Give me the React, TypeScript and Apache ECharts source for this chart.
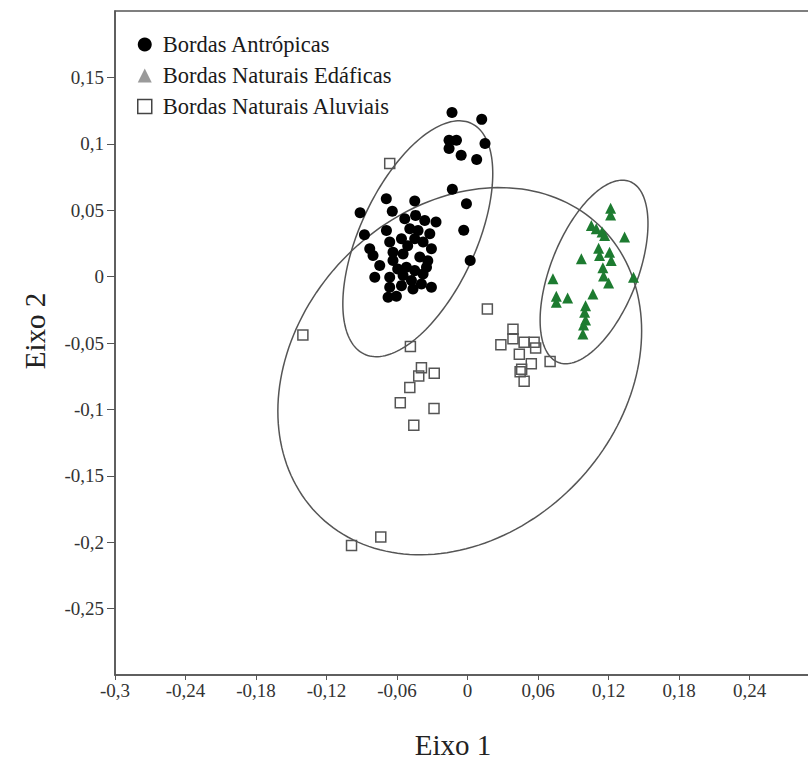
import React, { useEffect, useRef } from "react";
import * as echarts from "echarts";

// Eixo 1 (x), Eixo 2 (y)
const antropicas: [number, number][] = [
  [-0.0132, 0.1236], [0.0121, 0.1184], [-0.0157, 0.1027], [-0.0094, 0.1027],
  [-0.0157, 0.0965], [-0.0054, 0.0914], [0.0078, 0.0881], [0.0149, 0.1002],
  [-0.0129, 0.0657], [-0.0009, 0.0549], [-0.0032, 0.0349], [0.0023, 0.0121],
  [-0.0691, 0.0587], [-0.0449, 0.0569], [-0.0914, 0.0481], [-0.064, 0.0492],
  [-0.0534, 0.0436], [-0.0442, 0.0461], [-0.0364, 0.0423], [-0.0268, 0.0411],
  [-0.069, 0.0347], [-0.0877, 0.0315], [-0.0491, 0.036], [-0.0421, 0.0347],
  [-0.0321, 0.0323], [-0.0662, 0.026], [-0.0562, 0.0285], [-0.0449, 0.0285],
  [-0.0378, 0.026], [-0.0307, 0.0209], [-0.0832, 0.0209], [-0.0634, 0.0184],
  [-0.0548, 0.0171], [-0.0406, 0.0147], [-0.0804, 0.0159], [-0.0634, 0.0121],
  [-0.0747, 0.0083], [-0.052, 0.0071], [-0.0349, 0.0071], [-0.0449, 0.0045],
  [-0.0789, -0.0005], [-0.0662, -0.0005], [-0.0548, 0.0008], [-0.0378, 0.002],
  [-0.0477, -0.003], [-0.0392, -0.0055], [-0.0307, -0.008], [-0.0662, -0.008],
  [-0.0562, -0.0068], [-0.0464, -0.0093], [-0.0676, -0.0156], [-0.0605, -0.0148],
  [-0.0509, 0.0232], [-0.0338, 0.0119], [-0.0594, 0.0058],
];

const edaficas: [number, number][] = [
  [0.1218, 0.0515], [0.1218, 0.0464], [0.1054, 0.0385], [0.1096, 0.036],
  [0.1145, 0.0335], [0.1167, 0.031], [0.1337, 0.0298], [0.0969, 0.0134],
  [0.1116, 0.0213], [0.1124, 0.0159], [0.1209, 0.0184], [0.1223, 0.0121],
  [0.1152, 0.0066], [0.1158, 0.0005], [0.1201, -0.0048], [0.1413, -0.0005],
  [0.0727, -0.0017], [0.0756, -0.0148], [0.0756, -0.0193], [0.0852, -0.0161],
  [0.1067, -0.0131], [0.1005, -0.0219], [0.0997, -0.0269], [0.1005, -0.0327],
  [0.0988, -0.0365], [0.0982, -0.0433],
];

const aluviais: [number, number][] = [
  [-0.0662, 0.0851], [-0.1401, -0.044], [-0.0486, -0.0526], [-0.0392, -0.0686],
  [-0.0415, -0.0748], [-0.0283, -0.0727], [-0.0491, -0.0835], [-0.0572, -0.095],
  [-0.0285, -0.0994], [-0.0457, -0.112], [0.0169, -0.0244], [0.0387, -0.0397],
  [0.0387, -0.0468], [0.0284, -0.0514], [0.0482, -0.0495], [0.0567, -0.0495],
  [0.058, -0.0537], [0.0441, -0.0584], [0.0543, -0.0657], [0.0461, -0.0697],
  [0.0448, -0.0716], [0.0482, -0.0788], [0.0703, -0.064], [-0.0738, -0.1961],
  [-0.0987, -0.2024],
];

// confidence ellipses: [centerX, centerY, u.x, u.y, v.x, v.y] (conjugate semi-axes)
const ellipseAntropicas = [-0.0423, 0.0285, 0.0638, 0.0491, 0, -0.074];
const ellipseAluviais = [-0.0066, -0.0712, 0.1548, 0.0302, 0, -0.1349];
const ellipseEdaficas = [0.1077, 0.0035, 0.0459, 0.0363, 0, -0.0588];

const xTickValues = [-0.3, -0.24, -0.18, -0.12, -0.06, 0, 0.06, 0.12, 0.18, 0.24];
const xTickLabels = ["-0,3", "-0,24", "-0,18", "-0,12", "-0,06", "0", "0,06", "0,12", "0,18", "0,24"];
const yTickValues = [-0.25, -0.2, -0.15, -0.1, -0.05, 0, 0.05, 0.1, 0.15];
const yTickLabels = ["-0,25", "-0,2", "-0,15", "-0,1", "-0,05", "0", "0,05", "0,1", "0,15"];

const SERIF = "'Liberation Serif', 'Times New Roman', serif";

function lookup(values: number[], labels: string[], v: number) {
  const i = values.findIndex((t) => Math.abs(t - v) < 1e-6);
  return i >= 0 ? labels[i] : "";
}

export default function App() {
  const ref = useRef<HTMLDivElement>(null);
  useEffect(() => {
    if (!ref.current) return;
    const chart = echarts.init(ref.current, null, { renderer: "svg" });
    const option: any = {
      animation: false,
      backgroundColor: "#ffffff",
      grid: {
        left: 115,
        top: 11,
        width: 705,
        height: 664,
        outerBoundsMode: "none",
        containLabel: false,
        show: true,
        borderColor: "#555",
        borderWidth: 1.5,
        backgroundColor: "transparent",
      },
      xAxis: {
        type: "value",
        min: -0.3,
        max: 0.3,
        interval: 0.06,
        splitLine: { show: false },
        axisLine: { show: true, onZero: false, lineStyle: { color: "#555", width: 1.5 } },
        axisTick: { show: true, length: 5, customValues: xTickValues, lineStyle: { color: "#555" } },
        axisLabel: {
          customValues: xTickValues,
          margin: 6,
          fontFamily: SERIF,
          fontSize: 19,
          color: "#333",
          formatter: (v: number) => lookup(xTickValues, xTickLabels, v),
        },
      },
      yAxis: {
        type: "value",
        min: -0.3,
        max: 0.2,
        interval: 0.05,
        splitLine: { show: false },
        axisLine: { show: true, onZero: false, lineStyle: { color: "#555", width: 1.5 } },
        axisTick: { show: true, length: 8, customValues: yTickValues, lineStyle: { color: "#555" } },
        axisLabel: {
          customValues: yTickValues,
          margin: 11,
          fontFamily: SERIF,
          fontSize: 19,
          color: "#333",
          formatter: (v: number) => lookup(yTickValues, yTickLabels, v),
        },
      },
      legend: {
        orient: "vertical",
        left: 132,
        top: 28,
        itemWidth: 14,
        itemHeight: 14,
        itemGap: 8,
        selectedMode: false,
        textStyle: {
          fontFamily: SERIF,
          fontSize: 22.5,
          lineHeight: 22,
          color: "#1a1a1a",
          padding: [0, 0, 0, 6],
        },
        data: [
          { name: "Bordas Antrópicas", icon: "circle", itemStyle: { color: "#000" } },
          { name: "Bordas Naturais Edáficas", icon: "triangle", itemStyle: { color: "#9a9a9a" } },
          {
            name: "Bordas Naturais Aluviais",
            icon: "rect",
            itemStyle: { color: "#fff", borderColor: "#444", borderWidth: 1.5 },
          },
        ],
      },
      graphic: [
        {
          type: "text",
          x: 453,
          y: 745,
          style: {
            text: "Eixo 1",
            font: `29px ${SERIF}`,
            fill: "#222",
            align: "center",
            verticalAlign: "middle",
          },
        },
        {
          type: "text",
          x: 35,
          y: 331,
          rotation: Math.PI / 2,
          style: {
            text: "Eixo 2",
            font: `29px ${SERIF}`,
            fill: "#222",
            align: "center",
            verticalAlign: "middle",
          },
        },
      ],
      series: [
        {
          type: "custom",
          name: "ellipses",
          silent: true,
          dimensions: ["cx", "cy", "ux", "uy", "vx", "vy"],
          encode: { x: 0, y: 1 },
          data: [ellipseAntropicas, ellipseAluviais, ellipseEdaficas],
          renderItem: (params: any, api: any) => {
            const cx = api.value(0);
            const cy = api.value(1);
            const ux = api.value(2);
            const uy = api.value(3);
            const vx = api.value(4);
            const vy = api.value(5);
            const pts: number[][] = [];
            const n = 180;
            for (let k = 0; k <= n; k++) {
              const t = (k / n) * Math.PI * 2;
              const c = Math.cos(t);
              const s = Math.sin(t);
              pts.push(api.coord([cx + ux * c + vx * s, cy + uy * c + vy * s]));
            }
            return {
              type: "polyline",
              shape: { points: pts },
              style: { fill: null, stroke: "#555", lineWidth: 1.5 },
              silent: true,
            };
          },
        },
        {
          name: "Bordas Antrópicas",
          type: "scatter",
          symbol: "circle",
          symbolSize: 11,
          itemStyle: { color: "#000", opacity: 1 },
          emphasis: { disabled: true },
          data: antropicas,
        },
        {
          name: "Bordas Naturais Edáficas",
          type: "scatter",
          symbol: "triangle",
          symbolSize: 11,
          itemStyle: { color: "#1d7b30", opacity: 1 },
          emphasis: { disabled: true },
          data: edaficas,
        },
        {
          name: "Bordas Naturais Aluviais",
          type: "scatter",
          symbol: "rect",
          symbolSize: 10,
          itemStyle: { color: "rgba(255,255,255,0)", borderColor: "#555", borderWidth: 1.5, opacity: 1 },
          emphasis: { disabled: true },
          data: aluviais,
        },
      ],
    };
    chart.setOption(option);
    return () => chart.dispose();
  }, []);
  return (
    <div
      ref={ref}
      style={{ position: "absolute", left: 0, top: 0, width: 808, height: 760, background: "#fff" }}
    />
  );
}
